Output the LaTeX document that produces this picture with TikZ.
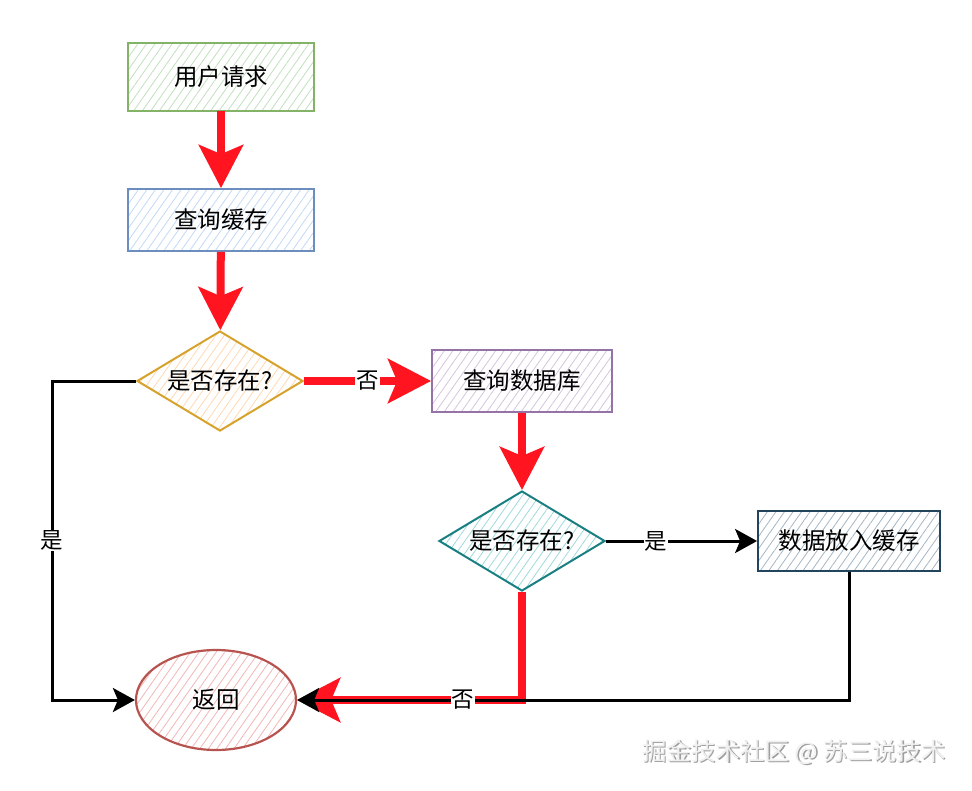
\documentclass[tikz,border=0pt]{standalone}
\usepackage{fontspec}
\setmainfont{Noto Sans CJK SC}
\usetikzlibrary{shapes.geometric, arrows.meta, patterns.meta}

\definecolor{redline}{RGB}{255,20,32}
\definecolor{greenline}{HTML}{82B366}
\definecolor{greenfill}{HTML}{C2DFBE}
\definecolor{blueline}{HTML}{6C8EBF}
\definecolor{bluefill}{HTML}{C2D8F5}
\definecolor{goldline}{HTML}{D6A22C}
\definecolor{goldfill}{HTML}{FFD8B0}
\definecolor{purpleline}{HTML}{9673A6}
\definecolor{purplefill}{HTML}{D5C4DE}
\definecolor{tealline}{HTML}{1A7F82}
\definecolor{tealfill}{HTML}{9FD9DC}
\definecolor{slateline}{HTML}{23445D}
\definecolor{slatefill}{HTML}{A3B6C4}
\definecolor{roseline}{HTML}{B85450}
\definecolor{rosefill}{HTML}{F2B6B4}

\begin{document}
\begin{tikzpicture}[x=1pt, y=-1pt,
    box/.style={draw=#1, line width=1.8pt, minimum width=186pt, minimum height=62pt,
        font=\fontsize{23.5}{27}\selectfont},
    hatch/.style={pattern={Lines[angle=55, distance=7pt, line width=0.8pt]}, pattern color=#1},
    decision/.style={diamond, draw=#1, line width=2pt, aspect=1.66, inner sep=0pt,
        minimum width=166pt, minimum height=100pt, font=\fontsize{23.5}{27}\selectfont},
    redarrow/.style={draw=redline, line width=8pt, -{Stealth[length=43pt, width=44pt, inset=9pt]}},
    blackarrow/.style={draw=black, line width=3pt, -{Stealth[length=22pt, width=24pt, inset=5pt]}},
    edgelabel/.style={fill=white, inner sep=1pt, font=\fontsize{22.5}{26}\selectfont}
]
    \useasboundingbox (0,0) rectangle (972,790);

    % Noeuds
    \node[box=greenline, hatch=greenfill, minimum height=68pt] (req) at (221,77) {用户请求};
    \node[box=blueline, hatch=bluefill] (cache) at (221,220) {查询缓存};
    \node[decision=goldline, hatch=goldfill] (hit) at (220,381) {是否存在?};
    \node[box=purpleline, hatch=purplefill, minimum width=180pt] (db) at (522,381) {查询数据库};
    \node[decision=tealline, hatch=tealfill] (found) at (522,541) {是否存在?};
    \node[box=slateline, hatch=slatefill, minimum width=182pt, minimum height=60pt] (store) at (849,541) {数据放入缓存};
    \node[ellipse, draw=roseline, line width=2.2pt, hatch=rosefill, minimum width=160pt, minimum height=100pt,
        font=\fontsize{23.5}{27}\selectfont] (ret) at (216,700) {返回};

    % Chemin rouge
    \draw[redarrow] (req) -- (cache);
    \draw[redarrow] (cache) -- (hit);
    \draw[redarrow] (hit) -- node[edgelabel] {否} (db);
    \draw[redarrow] (db) -- (found);
    \draw[redarrow] (found.south) |- (ret.east);

    % Chemins noirs
    \coordinate (lefttop) at (52,381);
    \coordinate (leftbot) at (52,700);
    \draw[blackarrow] (hit.west) -- (lefttop) -- node[edgelabel] {是} (leftbot) -- (ret.west);
    \draw[blackarrow] (found.east) -- node[edgelabel, pos=0.33] {是} (store.west);
    \draw[blackarrow] (store.south) |- (ret.east);
    \node[edgelabel] (nolabel) at (463,700) {否};

    % Filigrane
    \node[text=gray!75, font=\fontsize{24.5}{28}\selectfont] (wmshadow) at (795.5,753.5) {掘金技术社区 @ 苏三说技术};
    \node[text=gray!12, font=\fontsize{24.5}{28}\selectfont] (wm) at (794,752) {掘金技术社区 @ 苏三说技术};
\end{tikzpicture}
\end{document}
